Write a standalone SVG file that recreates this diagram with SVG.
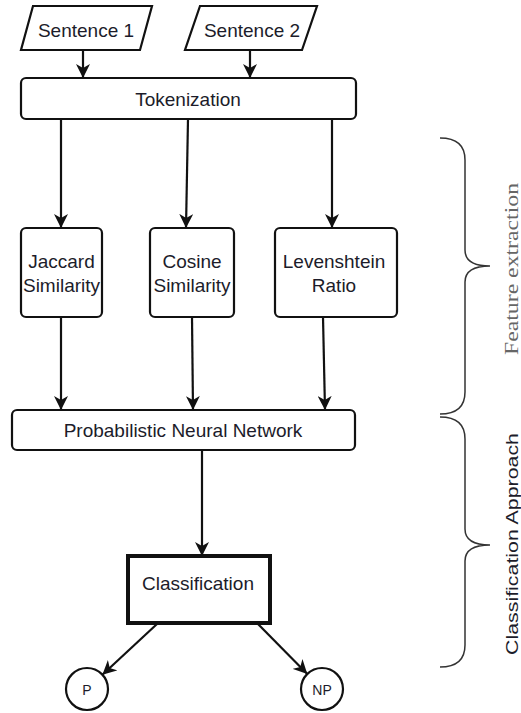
<svg xmlns="http://www.w3.org/2000/svg" width="521" height="713" viewBox="0 0 521 713">
<style>
.box{fill:#fff;stroke:#111;stroke-width:2.2}
.t{font-family:"Liberation Sans",Arial,sans-serif;font-size:19px;fill:#1c1c2a;text-anchor:middle}
.small{font-size:14px}
.edge{stroke:#111;stroke-width:2.2;fill:none}
.brace{stroke:#333;stroke-width:1.5;fill:none}
</style>
<defs>
<marker id="ah" viewBox="0 0 14 14" refX="14" refY="7" markerWidth="14" markerHeight="14" markerUnits="userSpaceOnUse" orient="auto">
<path d="M0,0 L14,7 L0,14 L4,7 z" fill="#111"/>
</marker>
</defs>
<rect width="521" height="713" fill="#fff"/>
<g id="sentence1">
<polygon class="box" points="33,6 152,6 140,50 21,50"/>
<text class="t" x="86" y="37">Sentence 1</text>
</g>
<g id="sentence2">
<polygon class="box" points="200,6 317,6 302,50 185,50"/>
<text class="t" x="252" y="37">Sentence 2</text>
</g>
<g id="tokenization">
<rect class="box" x="21" y="78" width="335" height="41" rx="5"/>
<text class="t" x="188" y="106">Tokenization</text>
</g>
<g id="jaccard">
<rect class="box" x="21" y="228" width="81" height="89" rx="5"/>
<text class="t" x="61.5" y="268">Jaccard</text>
<text class="t" x="61.5" y="292">Similarity</text>
</g>
<g id="cosine">
<rect class="box" x="150" y="228" width="84" height="89" rx="5"/>
<text class="t" x="192" y="268">Cosine</text>
<text class="t" x="192" y="292">Similarity</text>
</g>
<g id="levenshtein">
<rect class="box" x="275" y="228" width="122" height="89" rx="5"/>
<text class="t" x="334" y="268">Levenshtein</text>
<text class="t" x="334" y="292">Ratio</text>
</g>
<g id="pnn">
<rect class="box" x="12" y="410" width="343" height="40" rx="5"/>
<text class="t" x="183" y="437">Probabilistic Neural Network</text>
</g>
<g id="classification">
<rect x="128" y="556" width="142" height="67" fill="#fff" stroke="#111" stroke-width="4"/>
<text class="t" x="198" y="590">Classification</text>
</g>
<g id="p">
<circle class="box" cx="87" cy="689" r="21"/>
<text class="t small" x="87" y="695">P</text>
</g>
<g id="np">
<circle class="box" cx="322" cy="689" r="21"/>
<text class="t small" x="322" y="695">NP</text>
</g>
<g id="connectors">
<line class="edge" x1="83" y1="50" x2="83" y2="78" marker-end="url(#ah)"/>
<line class="edge" x1="250" y1="50" x2="250" y2="78" marker-end="url(#ah)"/>
<line class="edge" x1="61" y1="119" x2="61" y2="228" marker-end="url(#ah)"/>
<line class="edge" x1="188" y1="119" x2="186" y2="228" marker-end="url(#ah)"/>
<line class="edge" x1="332" y1="119" x2="332" y2="228" marker-end="url(#ah)"/>
<line class="edge" x1="61" y1="317" x2="61" y2="410" marker-end="url(#ah)"/>
<line class="edge" x1="192" y1="317" x2="193" y2="410" marker-end="url(#ah)"/>
<line class="edge" x1="323" y1="317" x2="325" y2="410" marker-end="url(#ah)"/>
<line class="edge" x1="202" y1="450" x2="202" y2="556" marker-end="url(#ah)"/>
<line class="edge" x1="157" y1="624" x2="102.4" y2="674.7" marker-end="url(#ah)"/>
<line class="edge" x1="258" y1="624" x2="307.3" y2="674" marker-end="url(#ah)"/>
</g>
<g id="feature-brace">
<path class="brace" d="M440,138 Q465,138 465,160 L465,250 Q465,266 490,266 Q465,266 465,282 L465,392 Q465,414 440,414"/>
<text transform="translate(518,269) rotate(-90)" x="0" y="0" text-anchor="middle" font-family="'Liberation Serif','Times New Roman',serif" font-size="19" fill="#666" textLength="172" lengthAdjust="spacingAndGlyphs">Feature extraction</text>
</g>
<g id="classification-brace">
<path class="brace" d="M440,417 Q465,417 465,439 L465,529 Q465,545 490,545 Q465,545 465,561 L465,645 Q465,667 440,667"/>
<text transform="translate(518,544) rotate(-90)" x="0" y="0" text-anchor="middle" font-family="'Liberation Sans',Arial,sans-serif" font-size="17" fill="#1c1c2a" textLength="222" lengthAdjust="spacingAndGlyphs">Classification Approach</text>
</g>
</svg>
